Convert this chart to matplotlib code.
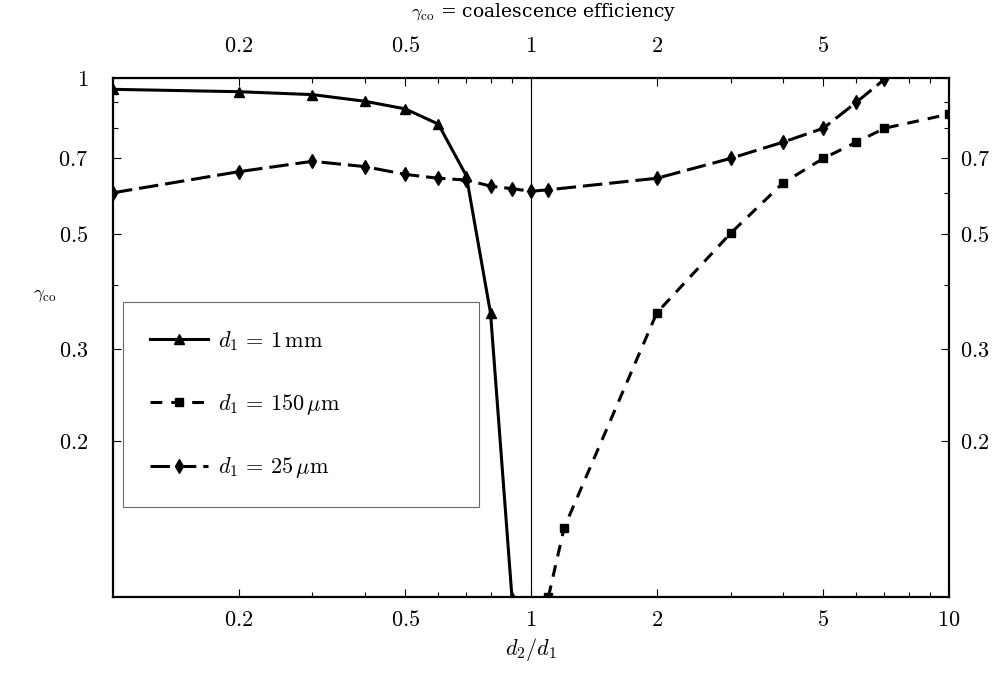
import matplotlib
matplotlib.use("Agg")
import matplotlib.pyplot as plt
from matplotlib.ticker import FixedLocator, NullFormatter, LogLocator

plt.rcParams['mathtext.fontset'] = 'cm'
plt.rcParams['lines.scale_dashes'] = False

# d1 = 1 mm
x_1mm = [0.1, 0.2, 0.3, 0.4, 0.5, 0.6, 0.7, 0.8, 0.9]
y_1mm = [0.951, 0.941, 0.929, 0.902, 0.872, 0.815, 0.648, 0.352, 0.1]

# d1 = 150 um
x_150 = [1.1, 1.2, 2, 3, 4, 5, 6, 7, 10]
y_150 = [0.1, 0.136, 0.353, 0.502, 0.627, 0.700, 0.752, 0.800, 0.852]

# d1 = 25 um
x_25 = [0.1, 0.2, 0.3, 0.4, 0.5, 0.6, 0.7, 0.8, 0.9, 1.0, 1.1, 2, 3, 4, 5, 6, 7]
y_25 = [0.601, 0.660, 0.691, 0.675, 0.652, 0.641, 0.636, 0.619, 0.612, 0.605,
        0.609, 0.641, 0.700, 0.752, 0.800, 0.898, 0.994]

x_ticks = [0.2, 0.5, 1, 2, 5, 10]
x_top_ticks = [0.2, 0.5, 1, 2, 5]
y_ticks = [0.2, 0.3, 0.5, 0.7, 1]
y_right_ticks = [0.2, 0.3, 0.5, 0.7]

labels = [r'$d_1\,=\,1\,\mathrm{mm}$',
          r'$d_1\,=\,150\,\mathrm{\mu m}$',
          r'$d_1\,=\,25\,\mathrm{\mu m}$']


def fmt(v):
    return r'$%g$' % v


fig = plt.figure(figsize=(9.96, 6.73), dpi=100)
ax = fig.add_axes([0.1135, 0.1129, 0.8394, 0.7712])

ax.axvline(1, color='black', lw=0.8, zorder=1)

ax.plot(x_1mm, y_1mm, color='black', lw=2.2, ls='-', marker='^', ms=7,
        label=labels[0], zorder=3)
ax.plot(x_150, y_150, color='black', lw=2.2, ls=(0, (8.5, 6.5)), marker='s', ms=6,
        label=labels[1], zorder=3)
ax.plot(x_25, y_25, color='black', lw=2.2, ls=(0, (14, 5)), marker='d', ms=7.5,
        label=labels[2], zorder=3)

ax.set_xscale('log')
ax.set_yscale('log')
ax.set_xlim(0.1, 10)
ax.set_ylim(0.1, 1)

for s in ax.spines.values():
    s.set_linewidth(1.6)

ax.xaxis.set_major_locator(FixedLocator(x_ticks))
ax.xaxis.set_minor_locator(LogLocator(base=10, subs=range(2, 10)))
ax.xaxis.set_minor_formatter(NullFormatter())
ax.set_xticklabels([fmt(v) for v in x_ticks])
ax.yaxis.set_major_locator(FixedLocator(y_ticks))
ax.yaxis.set_minor_locator(LogLocator(base=10, subs=range(2, 10)))
ax.yaxis.set_minor_formatter(NullFormatter())
ax.set_yticklabels([fmt(v) for v in y_ticks])

ax.tick_params(which='both', direction='in', top=True, right=True, width=0.8)
ax.tick_params(which='major', length=6, labelsize=16)
ax.tick_params(which='minor', length=3.5)
ax.tick_params(axis='x', which='major', pad=9)
ax.tick_params(axis='y', which='major', pad=18)

# top axis labels
axt = ax.secondary_xaxis('top')
axt.set_xticks(x_top_ticks)
axt.set_xticklabels([fmt(v) for v in x_top_ticks])
axt.xaxis.set_minor_formatter(NullFormatter())
axt.tick_params(which='both', length=0, labelsize=16, pad=16)
axt.spines['top'].set_visible(False)

# right axis labels
axr = ax.secondary_yaxis('right')
axr.set_yticks(y_right_ticks)
axr.set_yticklabels([fmt(v) for v in y_right_ticks])
axr.yaxis.set_minor_formatter(NullFormatter())
axr.tick_params(which='both', length=0, labelsize=16, pad=8)
axr.spines['right'].set_visible(False)

ax.set_xlabel(r'$d_2/d_1$', fontsize=16, labelpad=5)
fig.text(33 / 996, 1 - 295 / 673, r'$\gamma_{\rm co}$', fontsize=13.5,
         family='DejaVu Serif', ha='left', va='center')
fig.text(544 / 996, 1 - 12 / 673, r'$\gamma_{\rm co}$ = coalescence efficiency',
         fontsize=13.5, family='DejaVu Serif', ha='center', va='center')

leg = ax.legend(loc='upper left', bbox_to_anchor=(0.012, 0.171, 0.426, 0.397),
                mode='expand', fontsize=16, frameon=True, fancybox=False,
                edgecolor='#444444', borderpad=1.2, labelspacing=1.75,
                handlelength=2.6, handletextpad=0.45, borderaxespad=0)
leg.get_frame().set_linewidth(0.8)

fig.savefig('out.png', dpi=100)
